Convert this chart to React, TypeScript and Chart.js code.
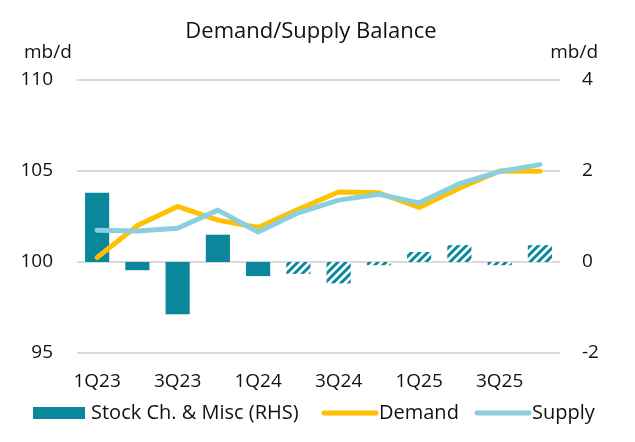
import React, { useEffect, useRef } from 'react';
import { Chart, registerables } from 'chart.js';

Chart.register(...registerables);

const quarters = ['1Q23', '2Q23', '3Q23', '4Q23', '1Q24', '2Q24', '3Q24', '4Q24', '1Q25', '2Q25', '3Q25', '4Q25'];
const stockChange = [1.52, -0.18, -1.15, 0.6, -0.31, -0.26, -0.47, -0.07, 0.22, 0.37, -0.07, 0.37];
const demand = [100.25, 102.0, 103.05, 102.3, 101.9, 102.9, 103.85, 103.8, 103.0, 104.05, 105.0, 104.98];
const supply = [101.75, 101.7, 101.85, 102.85, 101.65, 102.7, 103.4, 103.72, 103.25, 104.3, 104.97, 105.35];
const forecastStart = 5;

const leftTicks = [95, 100, 105, 110];
const rightTicks = [-2, 0, 2, 4];

const TEAL = '#0A879B';
const GOLD = '#FFC000';
const BLUE = '#8BCFDF';
const FONT = '"Open Sans", sans-serif';
const TXT = '#111';
const FS = 19;

function makePattern(): CanvasPattern | string {
  const c = document.createElement('canvas');
  c.width = 8;
  c.height = 8;
  const g = c.getContext('2d');
  if (!g) return TEAL;
  g.fillStyle = '#ffffff';
  g.fillRect(0, 0, 8, 8);
  g.strokeStyle = TEAL;
  g.lineWidth = 3;
  g.beginPath();
  g.moveTo(-2, 10);
  g.lineTo(10, -2);
  g.moveTo(-6, 6);
  g.lineTo(6, -6);
  g.moveTo(2, 14);
  g.lineTo(14, 2);
  g.stroke();
  const p = g.createPattern(c, 'repeat');
  return p || TEAL;
}

export default function App() {
  const ref = useRef<HTMLCanvasElement | null>(null);

  useEffect(() => {
    const canvas = ref.current;
    if (!canvas) return;
    const pattern = makePattern();
    const barColors = stockChange.map((_, i) => (i >= forecastStart ? pattern : TEAL));

    const decor = {
      id: 'decor',
      afterDraw(chart: any) {
        const ctx = chart.ctx as CanvasRenderingContext2D;
        ctx.save();
        ctx.fillStyle = TXT;
        ctx.textBaseline = 'middle';
        ctx.font = `22px ${FONT}`;
        ctx.textAlign = 'center';
        ctx.fillText('Demand/Supply Balance', 311, 32);
        ctx.font = `${FS}px ${FONT}`;
        ctx.textAlign = 'left';
        ctx.fillText('mb/d', 24, 53);
        ctx.textAlign = 'right';
        ctx.fillText('mb/d', 598, 53);

        // legend
        const ly = 413;
        const ds = chart.data.datasets;
        ctx.font = `20px ${FONT}`;
        ctx.textAlign = 'left';
        ctx.fillStyle = TEAL;
        ctx.fillRect(33, 407, 52, 12);
        ctx.fillStyle = TXT;
        ctx.fillText(ds[0].label, 91, ly);

        ctx.lineCap = 'round';
        ctx.lineWidth = 5;
        ctx.strokeStyle = GOLD;
        ctx.beginPath();
        ctx.moveTo(324, ly);
        ctx.lineTo(376, ly);
        ctx.stroke();
        ctx.fillText(ds[1].label, 379, ly);

        ctx.strokeStyle = BLUE;
        ctx.beginPath();
        ctx.moveTo(477, ly);
        ctx.lineTo(529, ly);
        ctx.stroke();
        ctx.fillText(ds[2].label, 532, ly);
        ctx.restore();
      },
    };

    const chart = new Chart(canvas, {
      type: 'bar',
      data: {
        labels: quarters,
        datasets: [
          {
            type: 'bar',
            label: 'Stock Ch. & Misc (RHS)',
            data: stockChange,
            backgroundColor: barColors as any,
            yAxisID: 'y1',
            categoryPercentage: 1,
            barPercentage: 0.6,
            order: 3,
          },
          {
            type: 'line',
            label: 'Demand',
            data: demand,
            borderColor: GOLD,
            backgroundColor: GOLD,
            borderWidth: 5,
            pointRadius: 0,
            tension: 0,
            borderCapStyle: 'round',
            borderJoinStyle: 'round',
            yAxisID: 'y',
            order: 2,
          },
          {
            type: 'line',
            label: 'Supply',
            data: supply,
            borderColor: BLUE,
            backgroundColor: BLUE,
            borderWidth: 5,
            pointRadius: 0,
            tension: 0,
            borderCapStyle: 'round',
            borderJoinStyle: 'round',
            yAxisID: 'y',
            order: 1,
          },
        ],
      },
      options: {
        animation: false,
        responsive: false,
        maintainAspectRatio: false,
        layout: { padding: { top: 80, left: 0, right: 0, bottom: 0 } },
        plugins: {
          legend: { display: false },
          title: { display: false },
          tooltip: { enabled: false },
        },
        scales: {
          x: {
            type: 'category',
            grid: { display: false, drawTicks: false },
            border: { display: false },
            ticks: {
              autoSkip: false,
              maxRotation: 0,
              padding: 17,
              color: TXT,
              font: { family: FONT, size: FS },
              callback: (_v: any, i: number) => (i % 2 === 0 ? quarters[i] : ''),
            },
            afterFit: (s: any) => {
              s.height = 89;
            },
          },
          y: {
            position: 'left',
            min: leftTicks[0],
            max: leftTicks[leftTicks.length - 1],
            afterBuildTicks: (s: any) => {
              s.ticks = leftTicks.map((v) => ({ value: v }));
            },
            grid: { color: '#D9D9D9', lineWidth: 2, drawTicks: false },
            border: { display: false },
            ticks: { padding: 24, color: TXT, font: { family: FONT, size: FS } },
            afterFit: (s: any) => {
              s.width = 77;
            },
          },
          y1: {
            position: 'right',
            min: rightTicks[0],
            max: rightTicks[rightTicks.length - 1],
            afterBuildTicks: (s: any) => {
              s.ticks = rightTicks.map((v) => ({ value: v }));
            },
            grid: { display: false, drawTicks: false },
            border: { display: false },
            ticks: { padding: 22, color: TXT, font: { family: FONT, size: FS } },
            afterFit: (s: any) => {
              s.width = 75;
            },
          },
        },
      },
      plugins: [decor],
    } as any);

    return () => chart.destroy();
  }, []);

  return (
    <div style={{ position: 'fixed', left: 0, top: 0, width: 635, height: 442, background: '#fff' }}>
      <canvas ref={ref} width={635} height={442} style={{ width: 635, height: 442 }} />
    </div>
  );
}
